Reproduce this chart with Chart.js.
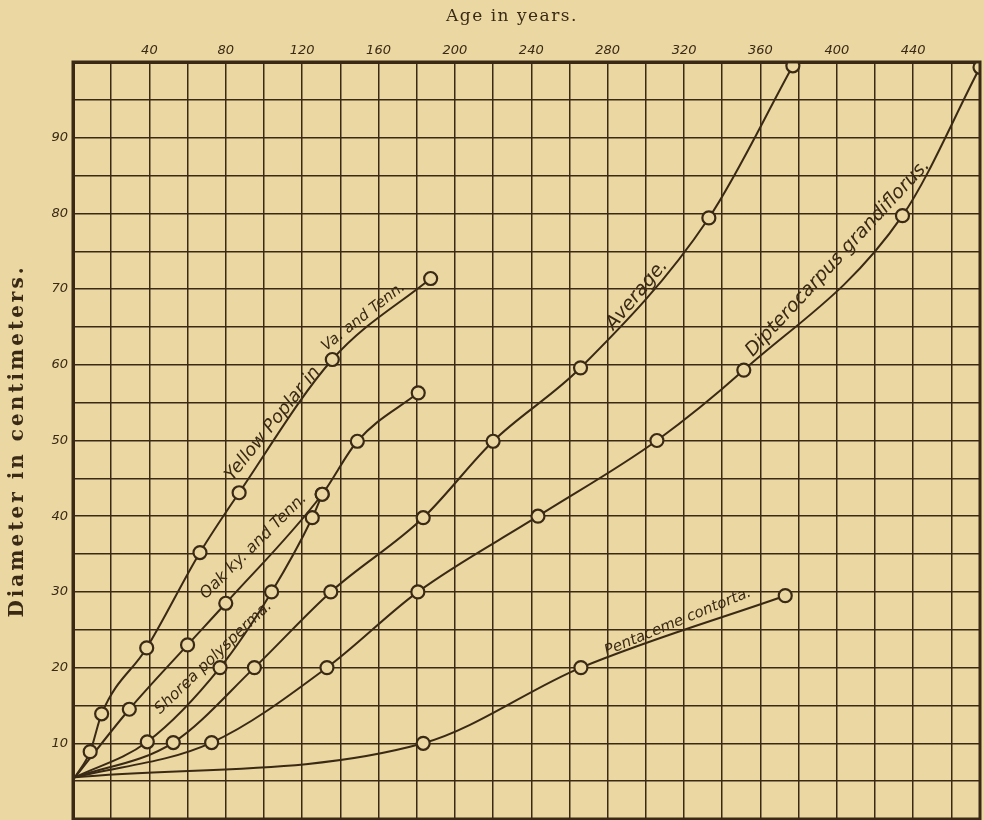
<!DOCTYPE html>
<html>
<head>
<meta charset="utf-8">
<script src="https://cdn.jsdelivr.net/npm/chart.js@4.4.1/dist/chart.umd.min.js"></script>
<style>
  html, body { margin: 0; padding: 0; background: #ead7a2; }
  #wrap { width: 984px; height: 820px; }
</style>
</head>
<body>
<div id="wrap"><canvas id="growthChart"></canvas></div>
<script>
// age in years / diameter in cm
const yellowPoplarAge  = [1, 9, 15, 38.6, 66.5, 87, 135.8, 187.3];
const yellowPoplarDiam = [5.5, 8.9, 13.9, 22.6, 35.2, 43.1, 60.7, 71.4];

const oakAge  = [1, 29.5, 60, 80, 130.5, 148.9, 180.8];
const oakDiam = [5.5, 14.5, 23, 28.5, 42.9, 49.9, 56.3];

const shoreaAge  = [1, 38.9, 77, 104, 125.3, 130.5];
const shoreaDiam = [5.5, 10.2, 20, 30, 39.8, 42.9];

const averageAge  = [1, 52.5, 95, 135, 183.4, 220, 265.8, 333, 377];
const averageDiam = [5.5, 10.1, 20, 30, 39.8, 49.9, 59.6, 79.4, 99.5];

const dipteroAge  = [1, 72.6, 133, 180.6, 243.5, 305.8, 351.3, 434.4, 475];
const dipteroDiam = [5.5, 10.1, 20, 30, 40, 50, 59.3, 79.7, 99.3];

const pentacemeAge  = [1, 183.4, 266, 373];
const pentacemeDiam = [5.5, 10, 20, 29.5];

const ageTickLabels  = [40, 80, 120, 160, 200, 240, 280, 320, 360, 400, 440];
const diamTickLabels = [10, 20, 30, 40, 50, 60, 70, 80, 90];

// names written along the curves: start point and direction, in data units
const curveNotes = [
  { text: 'Yellow Poplar in', from: [83.5, 44.6], to: [130.5, 59.3], size: 18 },
  { text: 'Va. and Tenn.', from: [132.5, 61.8], to: [175.4, 70.3], size: 15 },
  { text: 'Oak ky. and Tenn.', from: [69.5, 29], to: [122.4, 42.2], size: 16 },
  { text: 'Shorea polysperma.', from: [45.6, 13.8], to: [110, 29.4], size: 15.5 },
  { text: 'Average.', from: [283, 64.5], to: [313, 73.5], size: 19 },
  { text: 'Dipterocarpus grandiflorus.', from: [356, 61], to: [453, 87.4], size: 19 },
  { text: 'Pentaceme contorta.', from: [279.5, 21.6], to: [362.3, 30.2], size: 15 }
];

const ink = '#3a2914';
const paper = '#ead7a2';

function pairs(ages, diams) {
  return ages.map((a, i) => ({ x: a, y: diams[i] }));
}

function curve(label, ages, diams) {
  return {
    label: label,
    data: pairs(ages, diams),
    borderColor: ink,
    borderWidth: 2,
    pointRadius: ctx => ctx.dataIndex === 0 ? 0 : 6.5,
    pointBorderWidth: 2.2,
    pointBorderColor: ink,
    pointBackgroundColor: paper,
    cubicInterpolationMode: 'monotone',
    fill: false
  };
}

const paperPlugin = {
  id: 'paper',
  beforeDraw(chart) {
    const c = chart.ctx;
    c.save();
    c.fillStyle = paper;
    c.fillRect(0, 0, chart.width, chart.height);
    c.restore();
  },
  afterDatasetsDraw(chart) {
    const c = chart.ctx;
    const a = chart.chartArea;
    const xs = chart.scales.x, ys = chart.scales.y;
    c.save();
    // frame
    c.strokeStyle = ink;
    c.lineWidth = 3;
    c.strokeRect(a.left, a.top, a.right - a.left, a.bottom - a.top);

    // curve names
    c.fillStyle = ink;
    c.textBaseline = 'alphabetic';
    curveNotes.forEach(n => {
      const x1 = xs.getPixelForValue(n.from[0]), y1 = ys.getPixelForValue(n.from[1]);
      const x2 = xs.getPixelForValue(n.to[0]), y2 = ys.getPixelForValue(n.to[1]);
      c.save();
      c.font = 'italic ' + n.size + 'px "DejaVu Sans"';
      c.translate(x1, y1);
      c.rotate(Math.atan2(y2 - y1, x2 - x1));
      c.fillText(n.text, 0, 0);
      c.restore();
    });

    // axis titles
    c.textAlign = 'center';
    c.textBaseline = 'middle';
    c.save();
    c.font = '17px "DejaVu Serif"';
    c.letterSpacing = '1.5px';
    c.fillText('Age in years.', 512, 17);
    c.restore();
    c.save();
    c.translate(18, 441);
    c.rotate(-Math.PI / 2);
    c.font = 'bold 20px "DejaVu Serif"';
    c.letterSpacing = '3px';
    c.fillText('Diameter in centimeters.', 0, 0);
    c.restore();
    c.restore();
  }
};

new Chart(document.getElementById('growthChart'), {
  type: 'line',
  data: {
    datasets: [
      curve('Yellow Poplar in Va. and Tenn.', yellowPoplarAge, yellowPoplarDiam),
      curve('Oak ky. and Tenn.', oakAge, oakDiam),
      curve('Shorea polysperma.', shoreaAge, shoreaDiam),
      curve('Average.', averageAge, averageDiam),
      curve('Dipterocarpus grandiflorus.', dipteroAge, dipteroDiam),
      curve('Pentaceme contorta.', pentacemeAge, pentacemeDiam)
    ]
  },
  options: {
    responsive: true,
    maintainAspectRatio: false,
    animation: false,
    layout: { autoPadding: false, padding: { top: 0, left: 0, right: 4, bottom: 1 } },
    plugins: {
      legend: { display: false },
      tooltip: { enabled: false }
    },
    scales: {
      x: {
        type: 'linear',
        position: 'top',
        min: 0,
        max: 475,
        afterFit: s => { s.height = 62; s.paddingLeft = 0; s.paddingRight = 0; },
        ticks: {
          stepSize: 20,
          includeBounds: false,
          autoSkip: false,
          maxRotation: 0,
          padding: 4,
          color: ink,
          font: { family: 'DejaVu Sans', style: 'italic', size: 13 },
          callback: v => ageTickLabels.includes(v) ? String(v) : ''
        },
        grid: { color: ink, lineWidth: 1.5, drawTicks: false },
        border: { display: true, color: ink, width: 3 }
      },
      y: {
        type: 'linear',
        min: 0,
        max: 100,
        afterFit: s => { s.width = 73; s.paddingTop = 0; s.paddingBottom = 0; },
        ticks: {
          stepSize: 5,
          includeBounds: false,
          autoSkip: false,
          padding: 5,
          color: ink,
          font: { family: 'DejaVu Sans', style: 'italic', size: 13 },
          callback: v => diamTickLabels.includes(v) ? String(v) : ''
        },
        grid: { color: ink, lineWidth: 1.5, drawTicks: false },
        border: { display: true, color: ink, width: 3 }
      }
    }
  },
  plugins: [paperPlugin]
});
</script>
</body>
</html>
